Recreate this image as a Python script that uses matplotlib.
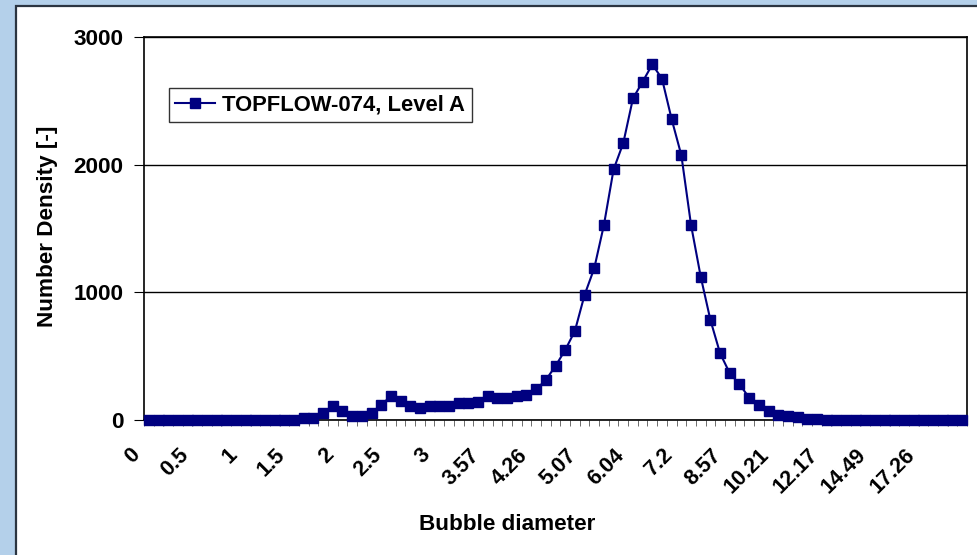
import numpy as np
import matplotlib.pyplot as plt
from matplotlib.patches import Rectangle
from matplotlib.transforms import ScaledTranslation

plt.rcParams['font.family'] = ['Liberation Sans', 'DejaVu Sans']
plt.rcParams['font.weight'] = 'bold'

# number density per bubble diameter class (85 classes)
density = [0, 0, 0, 0, 0, 0, 0, 0, 0, 0, 0, 0, 0, 0, 2, 3,
           13, 13, 57, 112, 73, 31, 31, 55, 120, 185, 151, 107, 94, 110,
           110, 110, 130, 130, 143, 188, 175, 175, 188, 196, 240, 313, 423, 548,
           697, 979, 1188, 1527, 1963, 2169, 2519, 2650, 2785, 2673, 2355, 2073,
           1527, 1122, 783, 522, 366, 280, 175, 117, 73, 38, 31, 21, 9, 9, 3,
           0, 0, 0, 0, 0, 0, 0, 0, 0, 0, 0, 0, 0, 0]

# every fifth class is labelled
tick_labels = ['0', '0.5', '1', '1.5', '2', '2.5', '3', '3.57', '4.26', '5.07',
               '6.04', '7.2', '8.57', '10.21', '12.17', '14.49', '17.26']

fs = 16.2
W, H = 978, 555

fig = plt.figure(figsize=(W / 100, H / 100), dpi=100, facecolor='#b4d0ea')
fig.patches.append(Rectangle((16 / W, -0.02), 1.0, 1 - 6 / H + 0.02,
                             transform=fig.transFigure, facecolor='white',
                             edgecolor='#2b3440', linewidth=1.6, zorder=-5))

ax = fig.add_axes([144 / W, 1 - 420 / H, 823 / W, 383 / H])
x = np.arange(len(density))
ax.plot(x, density, color='#000080', lw=1.5, marker='s', ms=6.5,
        mec='#000080', label='TOPFLOW-074, Level A', clip_on=False, zorder=3)

ax.set_xlim(-0.5, len(density) - 0.5)
ax.set_ylim(0, 3000)
ax.set_yticks([0, 1000, 2000, 3000])
ax.yaxis.grid(True, color='black', lw=1)
ax.set_axisbelow(True)
for s in ax.spines.values():
    s.set_linewidth(1.2)

ax.set_xticks(np.arange(0, len(density), 5)[:len(tick_labels)])
ax.set_xticklabels(tick_labels, rotation=45, ha='right', va='center',
                   rotation_mode='anchor', fontsize=15.5)
ax.set_xticks(np.arange(-0.5, len(density), 1), minor=True)
ax.tick_params(axis='x', which='major', length=0, pad=23)
ax.tick_params(axis='x', which='minor', length=4, direction='out', color='#555555')
ax.tick_params(axis='y', length=7, direction='out', pad=8, labelsize=fs)
off = ScaledTranslation(-8.5 / 72, 0, fig.dpi_scale_trans)
for lab in ax.get_xticklabels():
    lab.set_transform(lab.get_transform() + off)

leg = ax.legend(loc='upper left', bbox_to_anchor=(0.03, 0.867), fancybox=False,
                edgecolor='black', borderaxespad=0, fontsize=15.8, handlelength=1.8,
                borderpad=0.3, handletextpad=0.35)
leg.get_frame().set_linewidth(1.0)

fig.text(507 / W, 1 - 525 / H, 'Bubble diameter', ha='center', va='center',
         fontsize=fs, weight='bold')
fig.text(48 / W, 1 - 226 / H, 'Number Density [-]', rotation=90, ha='center',
         va='center', fontsize=fs, weight='bold')

fig.savefig('out.png', dpi=100, facecolor=fig.get_facecolor())
